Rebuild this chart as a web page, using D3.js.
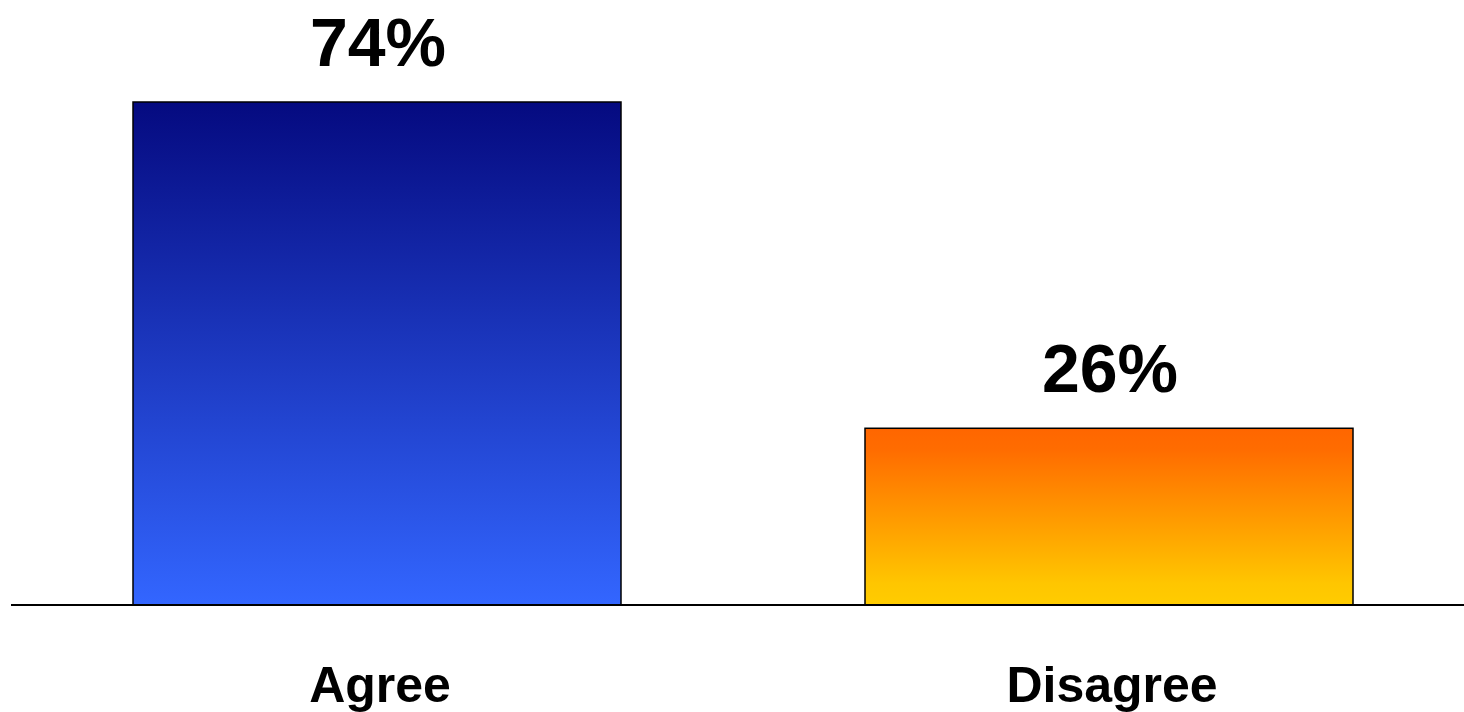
<!DOCTYPE html>
<html><head><meta charset="utf-8">
<script src="https://cdn.jsdelivr.net/npm/d3@7"></script>
<style>html,body{margin:0;padding:0;background:#fff;}svg{display:block;}</style>
</head><body>
<svg id="chart" width="1464" height="712"></svg>
<script>
const categories = ["Agree", "Disagree"];
const values = [74, 26];
const valueLabels = ["74%", "26%"];
const gradStops = [
  [["0%", "#050A80"], ["100%", "#3366FF"]],
  [["0%", "#FF6600"], ["12%", "#FF6C00"], ["88%", "#FFC600"], ["100%", "#FFCC00"]]
];

const svg = d3.select("#chart");
const x = d3.scaleBand().domain(categories).range([11, 1475]).paddingInner(1/3).paddingOuter(1/6);
const y = d3.scaleLinear().domain([0, d3.max(values)]).range([605, 102]);

const defs = svg.append("defs");
categories.forEach((c, i) => {
  const g = defs.append("linearGradient").attr("id", "g" + i)
    .attr("x1", 0).attr("y1", 0).attr("x2", 0).attr("y2", 1);
  gradStops[i].forEach(s => g.append("stop").attr("offset", s[0]).attr("stop-color", s[1]));
});

const data = categories.map((c, i) => ({c, v: values[i], label: valueLabels[i], i}));

svg.selectAll("rect.bar").data(data).join("rect").attr("class", "bar")
  .attr("x", d => x(d.c)).attr("width", x.bandwidth())
  .attr("y", d => y(d.v)).attr("height", d => y(0) - y(d.v))
  .attr("fill", d => "url(#g" + d.i + ")")
  .attr("stroke", "#000").attr("stroke-width", 1.5);

svg.append("line").attr("x1", 11).attr("x2", 1464).attr("y1", y(0)).attr("y2", y(0))
  .attr("stroke", "#000").attr("stroke-width", 2);

svg.selectAll("text.val").data(data).join("text").attr("class", "val")
  .attr("x", d => x(d.c) + x.bandwidth() / 2 + 1).attr("y", d => y(d.v) - 36)
  .attr("text-anchor", "middle")
  .attr("font-family", "Liberation Sans, Arial, sans-serif").attr("font-weight", "bold")
  .attr("font-size", 68).attr("fill", "#000").text(d => d.label);

svg.selectAll("text.cat").data(data).join("text").attr("class", "cat")
  .attr("x", d => x(d.c) + x.bandwidth() / 2 + 3).attr("y", 702)
  .attr("text-anchor", "middle")
  .attr("font-family", "Liberation Sans, Arial, sans-serif").attr("font-weight", "bold")
  .attr("font-size", 50).attr("fill", "#000").text(d => d.c);
</script>
</body></html>
